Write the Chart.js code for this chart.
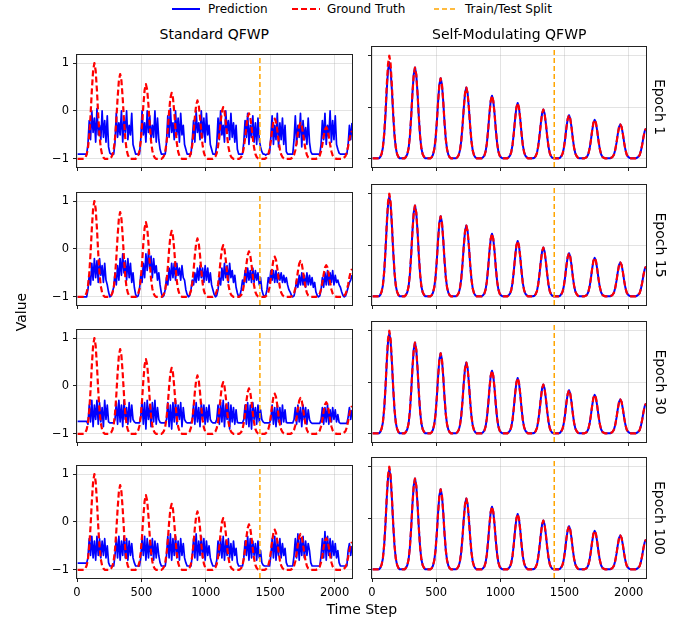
<!DOCTYPE html>
<html>
<head>
<meta charset="utf-8">
<script src="https://cdn.jsdelivr.net/npm/chart.js@4.4.0/dist/chart.umd.min.js"></script>
<style>
  body { margin: 0; background: #fff; font-family: "DejaVu Sans", sans-serif; }
  #page { position: relative; width: 679px; height: 624px; overflow: hidden; background: #fff; }
  .panel { position: absolute; }
  .txt { position: absolute; white-space: nowrap; color: #000; line-height: 1; }
  .legend { position: absolute; top: 1px; left: 0; width: 679px; height: 16px; font-size: 12px; }
  .legend svg { position: absolute; top: 3px; }
  .legend span { position: absolute; top: 1px; }
</style>
</head>
<body>
<div id="page">
  <div class="legend">
    <svg style="left:172px" width="28" height="10"><line x1="0" y1="5" x2="28" y2="5" stroke="#0000ff" stroke-width="2"/></svg>
    <span style="left:208px">Prediction</span>
    <svg style="left:292px" width="28" height="10"><line x1="0" y1="5" x2="28" y2="5" stroke="#ff0000" stroke-width="2" stroke-dasharray="6,3"/></svg>
    <span style="left:327px">Ground Truth</span>
    <svg style="left:434px" width="24" height="10"><line x1="0" y1="5" x2="24" y2="5" stroke="#ffa500" stroke-width="1.5" stroke-dasharray="5,3"/></svg>
    <span style="left:465px">Train/Test Split</span>
  </div>
</div>
<script>
// ===== DATA =====
// samples every 10 time steps, starting at step 5
const SAMPLE_START = 5;
const SAMPLE_STEP = 10;
const X_MIN = 0;
const X_MAX = 2135;
const SPLIT_STEP = 1420;
const Y_MIN = -1.17;
const Y_MAX = 1.17;

const xTicks = [0, 500, 1000, 1500, 2000];
const yTicks = [-1, 0, 1];
const columnTitles = ['Standard QFWP', 'Self-Modulating QFWP'];
const epochLabels = ['Epoch 1', 'Epoch 15', 'Epoch 30', 'Epoch 100'];

const groundTruth = [
  -1,-1,-1,-1,-1,-1,-0.97, -0.91,-0.78,-0.52,-0.10,0.42,0.84,1.00,0.84,0.42,-0.10,-0.52,-0.78,-0.91,
  -0.97,-1,-1,-1,-1,-1,-0.97, -0.92,-0.81,-0.58,-0.20,0.26,0.63,0.77,0.63,0.26,-0.20,-0.58,-0.81,-0.92,
  -0.97,-1,-1,-1,-1,-1,-0.98, -0.93,-0.83,-0.63,-0.30,0.11,0.44,0.56,0.44,0.11,-0.30,-0.63,-0.83,-0.93,
  -0.98,-1,-1,-1,-1,-1,-0.98, -0.94,-0.85,-0.67,-0.38,-0.02,0.27,0.38,0.27,-0.02,-0.38,-0.67,-0.85,-0.94,
  -0.98,-1,-1,-1,-1,-1,-0.98, -0.95,-0.87,-0.71,-0.45,-0.13,0.12,0.22,0.12,-0.13,-0.45,-0.71,-0.87,-0.95,
  -0.98,-1,-1,-1,-1,-1,-0.98, -0.95,-0.88,-0.74,-0.51,-0.23,-0.01,0.08,-0.01,-0.23,-0.51,-0.74,-0.88,-0.95,
  -0.98,-1,-1,-1,-1,-1,-0.99, -0.96,-0.90,-0.77,-0.57,-0.33,-0.13,-0.05,-0.13,-0.33,-0.57,-0.77,-0.90,-0.96,
  -0.99,-1,-1,-1,-1,-1,-0.99, -0.96,-0.91,-0.80,-0.62,-0.40,-0.23,-0.16,-0.23,-0.40,-0.62,-0.80,-0.91,-0.96,
  -0.99,-1,-1,-1,-1,-1,-0.99, -0.97,-0.92,-0.82,-0.66,-0.47,-0.31,-0.25,-0.31,-0.47,-0.66,-0.82,-0.92,-0.97,
  -0.99,-1,-1,-1,-1,-1,-0.99, -0.97,-0.93,-0.84,-0.70,-0.53,-0.39,-0.34,-0.39,-0.53,-0.70,-0.84,-0.93,-0.97,
  -0.99,-1,-1,-1,-1,-1,-0.99, -0.97,-0.94,-0.86,-0.74,-0.59,-0.47,-0.42
];

// Standard QFWP predictions (noisy)
const stdEpoch1 = [
  -0.9,-0.9,-0.9,-0.9,-0.9,-0.9,-0.9,-0.9,
  -0.7,-0.2,-0.6,0.0,-0.45,-0.15,-0.65,0.05,-0.5,-0.3,-0.6,0.0,-0.55,-0.2,-0.65,-0.1,-0.75,
  -0.88,-0.9,-0.9,-0.9,
  -0.65,-0.05,-0.55,-0.25,-0.5,0.0,-0.65,-0.15,-0.45,0.0,-0.6,-0.3,-0.5,-0.05,-0.7,-0.8,
  -0.9,-0.9,-0.9,-0.9,
  -0.6,0.0,-0.5,-0.25,-0.65,0.0,-0.45,-0.1,-0.6,-0.3,-0.55,0.0,-0.65,-0.15,-0.6,-0.8,
  -0.9,-0.9,-0.9,-0.9,
  -0.65,-0.1,-0.55,0.05,-0.45,-0.25,-0.6,0.0,-0.5,-0.15,-0.65,-0.05,-0.5,-0.3,-0.7,-0.8,
  -0.9,-0.9,-0.9,-0.9,
  -0.6,-0.2,-0.65,0.0,-0.45,-0.25,-0.6,0.0,-0.55,-0.15,-0.65,-0.05,-0.5,-0.3,-0.7,-0.8,
  -0.9,-0.9,-0.9,
  -0.7,-0.15,-0.6,0.0,-0.5,-0.3,-0.65,0.0,-0.45,-0.2,-0.6,-0.05,-0.55,-0.25,-0.65,-0.3,-0.8,
  -0.9,-0.9,-0.9,-0.9,
  -0.65,-0.2,-0.55,-0.05,-0.7,-0.3,-0.55,-0.1,-0.65,-0.25,-0.7,-0.15,-0.6,-0.75,-0.85,-0.9,
  -0.9,-0.92,-0.9,-0.9,-0.88,
  -0.55,-0.1,-0.7,-0.3,-0.6,-0.05,-0.75,-0.25,-0.6,-0.15,-0.7,-0.3,-0.85,
  -0.9,-0.9,-0.9,-0.9,-0.9,
  -0.6,-0.1,-0.7,-0.3,-0.55,-0.05,-0.75,-0.2,-0.6,-0.35,-0.7,-0.15,-0.65,-0.85,
  -0.9,-0.9,-0.9,-0.9,-0.9,-0.9,-0.9,
  -0.7,-0.2,-0.6,-0.05,-0.7,-0.3,-0.55,0.0,-0.65,-0.2,-0.6,-0.1,-0.7,-0.8,-0.88,
  -0.9,-0.9,-0.9,-0.9,-0.9,-0.9,
  -0.7,-0.3,-0.6,-0.25
];

const stdEpoch15 = [
  -1,-1,-1,-1,-1,-1,-1,-1,
  -0.85,-0.55,-0.75,-0.3,-0.65,-0.2,-0.6,-0.25,-0.7,-0.2,-0.55,-0.35,-0.7,-0.3,-0.65,-0.75,-0.9,
  -1,-0.98,-0.9,
  -0.8,-0.5,-0.75,-0.35,-0.65,-0.2,-0.55,-0.1,-0.5,-0.25,-0.65,-0.2,-0.6,-0.3,-0.7,-0.5,-0.8,-0.95,
  -1,-0.98,
  -0.85,-0.55,-0.7,-0.3,-0.6,-0.1,-0.45,-0.05,-0.4,-0.15,-0.6,-0.2,-0.5,-0.35,-0.65,-0.5,-0.75,-0.92,
  -1,-0.97,
  -0.85,-0.6,-0.75,-0.4,-0.65,-0.3,-0.6,-0.3,-0.65,-0.3,-0.55,-0.4,-0.65,-0.35,-0.6,-0.65,-0.85,-0.95,
  -1,-0.97,
  -0.85,-0.65,-0.75,-0.5,-0.7,-0.4,-0.65,-0.35,-0.6,-0.4,-0.7,-0.35,-0.65,-0.4,-0.7,-0.5,-0.75,-0.85,-0.95,
  -1,-0.97,
  -0.85,-0.6,-0.75,-0.4,-0.65,-0.3,-0.6,-0.35,-0.7,-0.3,-0.6,-0.45,-0.7,-0.55,-0.8,-0.92,
  -1,-0.97,
  -0.85,-0.65,-0.75,-0.45,-0.7,-0.4,-0.65,-0.45,-0.7,-0.4,-0.7,-0.45,-0.65,-0.5,-0.75,-0.6,-0.85,-0.95,
  -1,-0.97,
  -0.85,-0.6,-0.7,-0.45,-0.65,-0.45,-0.7,-0.45,-0.7,-0.5,-0.65,-0.5,-0.7,-0.55,-0.7,-0.6,-0.75,-0.85,-0.9,-0.97,
  -1,-0.98,
  -0.85,-0.65,-0.8,-0.55,-0.75,-0.5,-0.75,-0.55,-0.8,-0.5,-0.75,-0.55,-0.75,-0.6,-0.8,-0.7,-0.9,-0.97,
  -1,-0.98,
  -0.85,-0.6,-0.8,-0.5,-0.75,-0.45,-0.75,-0.5,-0.7,-0.45,-0.75,-0.55,-0.7,-0.65,-0.75,-0.8,-0.9,-0.97,
  -1,-0.98,
  -0.9,-0.8,-0.7,-0.65,-0.55
];

const stdEpoch30 = [
  -0.74,-0.74,-0.74,-0.74,-0.74,-0.74,-0.74,-0.74,
  -0.8,-0.4,-0.75,-0.3,-0.85,-0.4,-0.7,-0.3,-0.8,-0.35,-0.75,-0.45,-0.85,-0.3,-0.7,-0.4,-0.75,
  -0.77,-0.77,-0.77,-0.77,
  -0.7,-0.35,-0.8,-0.3,-0.75,-0.4,-0.85,-0.3,-0.7,-0.45,-0.8,-0.35,-0.75,-0.4,-0.7,-0.75,
  -0.77,-0.77,-0.77,-0.77,
  -0.65,-0.3,-0.8,-0.35,-0.9,-0.3,-0.7,-0.4,-0.85,-0.35,-0.75,-0.3,-0.8,-0.45,-0.7,-0.76,
  -0.77,-0.77,-0.77,-0.77,
  -0.7,-0.35,-0.85,-0.4,-0.9,-0.35,-0.75,-0.3,-0.8,-0.4,-0.7,-0.35,-0.85,-0.45,-0.7,-0.75,
  -0.77,-0.77,-0.77,-0.77,
  -0.7,-0.4,-0.8,-0.35,-0.75,-0.45,-0.85,-0.35,-0.7,-0.4,-0.8,-0.45,-0.75,-0.4,-0.7,-0.75,
  -0.77,-0.77,-0.77,
  -0.7,-0.4,-0.8,-0.35,-0.75,-0.3,-0.85,-0.4,-0.7,-0.35,-0.9,-0.4,-0.75,-0.45,-0.8,-0.5,-0.76,
  -0.77,-0.77,-0.77,-0.77,
  -0.7,-0.4,-0.8,-0.35,-0.85,-0.4,-0.9,-0.35,-0.7,-0.45,-0.8,-0.4,-0.75,-0.5,-0.7,-0.75,
  -0.77,-0.77,-0.77,-0.77,-0.77,
  -0.7,-0.4,-0.8,-0.45,-0.85,-0.4,-0.75,-0.45,-0.8,-0.4,-0.75,-0.5,-0.76,
  -0.77,-0.77,-0.77,-0.77,-0.77,
  -0.7,-0.45,-0.8,-0.4,-0.75,-0.45,-0.85,-0.4,-0.7,-0.45,-0.8,-0.5,-0.7,-0.76,
  -0.78,-0.78,-0.78,-0.78,-0.78,-0.78,-0.78,
  -0.7,-0.45,-0.8,-0.45,-0.75,-0.4,-0.8,-0.5,-0.75,-0.45,-0.7,-0.5,-0.75,-0.6,-0.76,
  -0.78,-0.78,-0.78,-0.78,-0.78,-0.78,
  -0.65,-0.45,-0.7,-0.5
];

const stdEpoch100 = [
  -0.86,-0.86,-0.86,-0.86,-0.86,-0.86,-0.86,-0.86,
  -0.75,-0.35,-0.7,-0.3,-0.75,-0.4,-0.8,-0.3,-0.7,-0.35,-0.75,-0.4,-0.7,-0.35,-0.75,-0.5,-0.85,
  -0.92,-0.92,-0.92,-0.92,
  -0.7,-0.35,-0.75,-0.3,-0.8,-0.4,-0.7,-0.3,-0.75,-0.35,-0.8,-0.4,-0.7,-0.45,-0.75,-0.85,
  -0.92,-0.92,-0.92,-0.92,
  -0.75,-0.35,-0.7,-0.3,-0.8,-0.35,-0.75,-0.4,-0.7,-0.35,-0.8,-0.4,-0.75,-0.45,-0.7,-0.85,
  -0.92,-0.92,-0.92,-0.92,
  -0.7,-0.3,-0.75,-0.25,-0.8,-0.35,-0.7,-0.3,-0.75,-0.4,-0.8,-0.35,-0.7,-0.45,-0.75,-0.85,
  -0.92,-0.92,-0.92,-0.92,
  -0.7,-0.35,-0.75,-0.25,-0.8,-0.4,-0.7,-0.3,-0.75,-0.35,-0.8,-0.4,-0.7,-0.5,-0.75,-0.85,
  -0.92,-0.92,-0.92,
  -0.8,-0.4,-0.7,-0.35,-0.75,-0.3,-0.8,-0.4,-0.7,-0.35,-0.75,-0.45,-0.8,-0.4,-0.7,-0.55,-0.85,
  -0.92,-0.92,-0.92,-0.92,
  -0.75,-0.4,-0.7,-0.3,-0.8,-0.35,-0.75,-0.4,-0.7,-0.45,-0.8,-0.4,-0.75,-0.6,-0.85,-0.9,
  -0.92,-0.92,-0.92,-0.92,-0.92,
  -0.7,-0.35,-0.75,-0.3,-0.8,-0.4,-0.7,-0.35,-0.75,-0.45,-0.7,-0.55,-0.85,
  -0.92,-0.92,-0.92,-0.92,-0.92,
  -0.7,-0.35,-0.75,-0.25,-0.8,-0.35,-0.7,-0.3,-0.75,-0.4,-0.7,-0.45,-0.6,-0.85,
  -0.92,-0.92,-0.92,-0.92,-0.92,-0.92,-0.92,
  -0.7,-0.35,-0.75,-0.2,-0.8,-0.3,-0.7,-0.35,-0.75,-0.4,-0.7,-0.45,-0.75,-0.6,-0.85,
  -0.92,-0.92,-0.92,-0.92,-0.92,-0.92,
  -0.6,-0.45,-0.7,-0.5
];

// Self-Modulating QFWP follows the ground truth; only the first peak differs
const smFirstPeakEpoch1 = [-1,-1,-1,-1,-1,-1,-0.97, -0.92,-0.79,-0.55,-0.16,0.33,0.72,0.87,0.72,0.33,-0.16,-0.55,-0.79,-0.92];
const smFirstPeakLater  = [-1,-1,-1,-1,-1,-1,-0.97, -0.91,-0.79,-0.53,-0.12,0.38,0.79,0.95,0.79,0.38,-0.12,-0.53,-0.79,-0.91];
const smEpoch1 = smFirstPeakEpoch1.concat(groundTruth.slice(20));
const smLater = smFirstPeakLater.concat(groundTruth.slice(20));

const standardPreds = [stdEpoch1, stdEpoch15, stdEpoch30, stdEpoch100];
const modulatedPreds = [smEpoch1, smLater, smLater, smLater];

// ===== LAYOUT =====
const COL_LEFT = [77, 372];
const PLOT_W = [275, 274];
const ROW_TOP = [47, 185, 322, 458];
const PLOT_H = 120;
const AXIS_W = 34;
const AXIS_H = 24;
const PAD = 3;
const FONT = '"DejaVu Sans", sans-serif';

const page = document.getElementById('page');

function addText(text, css) {
  const el = document.createElement('div');
  el.className = 'txt';
  el.textContent = text;
  el.style.cssText += css;
  page.appendChild(el);
  return el;
}

function toSeries(values) {
  return values.map((v, i) => ({ x: SAMPLE_START + SAMPLE_STEP * i, y: v }));
}

function fmtTick(v) {
  return v < 0 ? '\u2212' + Math.abs(v) : String(v);
}

// draws the four spines
const framePlugin = {
  id: 'frame',
  afterDatasetsDraw(chart) {
    const { ctx, chartArea: a } = chart;
    ctx.save();
    ctx.strokeStyle = '#222';
    ctx.lineWidth = 1;
    ctx.strokeRect(Math.round(a.left) - 0.5, Math.round(a.top) - 0.5,
      Math.round(a.right - a.left) + 1, Math.round(a.bottom - a.top) + 1);
    ctx.restore();
  }
};

// ===== BUILD PANELS =====
function makePanel(row, col) {
  const w = AXIS_W + PLOT_W[col] + PAD;
  const h = PAD + PLOT_H + AXIS_H;
  const wrap = document.createElement('div');
  wrap.className = 'panel';
  wrap.style.left = (COL_LEFT[col] - AXIS_W) + 'px';
  wrap.style.top = (ROW_TOP[row] - PAD) + 'px';
  const canvas = document.createElement('canvas');
  canvas.width = w;
  canvas.height = h;
  canvas.style.width = w + 'px';
  canvas.style.height = h + 'px';
  wrap.appendChild(canvas);
  page.appendChild(wrap);

  const pred = col === 0 ? standardPreds[row] : modulatedPreds[row];
  const showX = row === 3;
  const showY = col === 0;

  new Chart(canvas.getContext('2d'), {
    type: 'line',
    data: {
      datasets: [
        {
          label: 'Ground Truth',
          data: toSeries(groundTruth),
          borderColor: '#ff0000',
          borderWidth: 2.2,
          borderDash: [6, 3],
          borderJoinStyle: 'round',
          pointRadius: 0,
          tension: 0,
          order: 1
        },
        {
          label: 'Prediction',
          data: toSeries(pred),
          borderColor: '#0000ff',
          borderWidth: col === 0 ? 1.7 : 2,
          borderJoinStyle: 'round',
          pointRadius: 0,
          tension: 0,
          order: 2
        },
        {
          label: 'Train/Test Split',
          data: [{ x: SPLIT_STEP, y: Y_MIN }, { x: SPLIT_STEP, y: Y_MAX }],
          borderColor: '#ffa500',
          borderWidth: 1.5,
          borderDash: [5, 3],
          pointRadius: 0,
          order: 0
        }
      ]
    },
    options: {
      responsive: false,
      animation: false,
      devicePixelRatio: 1,
      layout: { padding: { top: PAD, right: PAD, left: 0, bottom: 0 } },
      plugins: { legend: { display: false }, tooltip: { enabled: false } },
      scales: {
        x: {
          type: 'linear',
          min: X_MIN,
          max: X_MAX,
          afterBuildTicks: s => { s.ticks = xTicks.map(v => ({ value: v })); },
          afterFit: s => { s.height = AXIS_H; },
          grid: { color: 'rgba(176,176,176,0.35)', tickColor: '#222', tickLength: 4, lineWidth: 1 },
          border: { display: false },
          ticks: {
            display: showX,
            color: '#000',
            padding: 4,
            maxRotation: 0,
            callback: v => String(v),
            font: { family: FONT, size: 11.5 }
          }
        },
        y: {
          min: Y_MIN,
          max: Y_MAX,
          afterBuildTicks: s => { s.ticks = yTicks.map(v => ({ value: v })); },
          afterFit: s => { s.width = AXIS_W; },
          grid: { color: 'rgba(176,176,176,0.35)', tickColor: '#222', tickLength: 4, lineWidth: 1 },
          border: { display: false },
          ticks: {
            display: showY,
            color: '#000',
            padding: 4,
            callback: v => fmtTick(v),
            font: { family: FONT, size: 11.5 }
          }
        }
      }
    },
    plugins: [framePlugin]
  });
}

for (let r = 0; r < 4; r++) {
  for (let c = 0; c < 2; c++) makePanel(r, c);
}

// ===== TEXT =====
columnTitles.forEach((t, c) => {
  const el = addText(t, 'font-size:14px;top:27px;');
  el.style.left = (COL_LEFT[c] + PLOT_W[c] / 2 - el.offsetWidth / 2) + 'px';
});

epochLabels.forEach((t, r) => {
  const el = addText(t, 'font-size:14px;');
  const cx = 660, cy = ROW_TOP[r] + PLOT_H / 2;
  el.style.left = (cx - el.offsetWidth / 2) + 'px';
  el.style.top = (cy - el.offsetHeight / 2) + 'px';
  el.style.transform = 'rotate(90deg)';
});

const yLab = addText('Value', 'font-size:14px;');
yLab.style.left = (21 - yLab.offsetWidth / 2) + 'px';
yLab.style.top = (312 - yLab.offsetHeight / 2) + 'px';
yLab.style.transform = 'rotate(-90deg)';

const xLab = addText('Time Step', 'font-size:14px;top:602px;');
xLab.style.left = (362 - xLab.offsetWidth / 2) + 'px';
</script>
</body>
</html>
